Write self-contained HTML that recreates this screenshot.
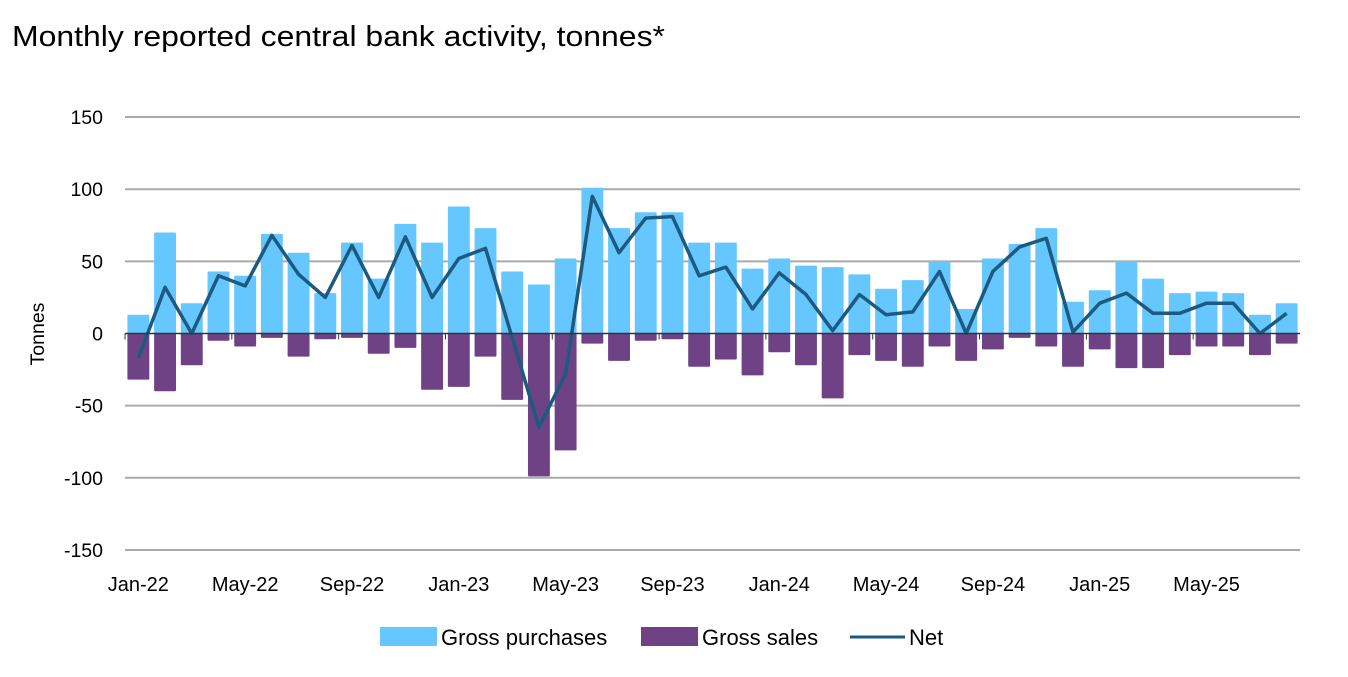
<!DOCTYPE html>
<html><head><meta charset="utf-8"><style>
body{margin:0;background:#fff;font-family:"Liberation Sans",sans-serif;}
</style></head><body>
<svg width="1348" height="672" xmlns="http://www.w3.org/2000/svg" font-family="Liberation Sans, sans-serif">
<text x="12" y="46" font-size="29" textLength="653" lengthAdjust="spacingAndGlyphs" fill="#000">Monthly reported central bank activity, tonnes*</text>
<g id="grid"></g><g id="bars"></g><g id="line"></g><g id="axes"></g>
<g>
<rect x="380" y="627" width="57" height="19" fill="#66c7ff"/>
<text x="441" y="645" font-size="22">Gross purchases</text>
<rect x="641" y="627" width="57" height="19" fill="#6e4285"/>
<text x="702" y="645" font-size="22">Gross sales</text>
<line x1="850" y1="637" x2="905" y2="637" stroke="#1d5a80" stroke-width="3"/>
<text x="909" y="645" font-size="22">Net</text>
</g>
</svg>
<script>
const months=["Jan-22","Feb-22","Mar-22","Apr-22","May-22","Jun-22","Jul-22","Aug-22","Sep-22","Oct-22","Nov-22","Dec-22","Jan-23","Feb-23","Mar-23","Apr-23","May-23","Jun-23","Jul-23","Aug-23","Sep-23","Oct-23","Nov-23","Dec-23","Jan-24","Feb-24","Mar-24","Apr-24","May-24","Jun-24","Jul-24","Aug-24","Sep-24","Oct-24","Nov-24","Dec-24","Jan-25","Feb-25","Mar-25","Apr-25","May-25","Jun-25","Jul-25","Aug-25"];
const purchases=[13,70,21,43,40,69,56,28,63,38,76,63,88,73,43,34,52,101,73,84,84,63,63,45,52,47,46,41,31,37,50,17,52,62,73,22,30,50,38,28,29,28,13,21];
const sales=[-32,-40,-22,-5,-9,-3,-16,-4,-3,-14,-10,-39,-37,-16,-46,-99,-81,-7,-19,-5,-4,-23,-18,-29,-13,-22,-45,-15,-19,-23,-9,-19,-11,-3,-9,-23,-11,-24,-24,-15,-9,-9,-15,-7];
const net=[-17,32,0,40,33,68,41,25,61,25,67,25,52,59,-3,-65,-28,95,56,80,81,40,46,17,42,27,2,27,13,15,43,0,43,60,66,1,21,28,14,14,21,21,0,14];
const yTicks=[150,100,50,0,-50,-100,-150];
const xTickLabels=["Jan-22","May-22","Sep-22","Jan-23","May-23","Sep-23","Jan-24","May-24","Sep-24","Jan-25","May-25"];
const NS="http://www.w3.org/2000/svg";
const x0=125,x1=1300,slot=(x1-x0)/months.length;
const y=v=>333.5-v*1.443;
const xc=i=>x0+slot*(i+0.5);
function mk(t,a,p){const e=document.createElementNS(NS,t);for(const k in a)e.setAttribute(k,a[k]);p.appendChild(e);return e;}
const G=document.getElementById('grid'),B=document.getElementById('bars'),L=document.getElementById('line'),A=document.getElementById('axes');
yTicks.forEach(v=>{
 if(v!==0){const g=mk('line',{x1:x0,x2:x1,y1:y(v),y2:y(v),stroke:'#aaa','stroke-width':2},G);
 
 }
 const t=mk('text',{x:103,y:y(v)+7,'font-size':19.5,'text-anchor':'end',fill:'#000'},A);t.textContent=v;
 
 
});
const yt=mk('text',{x:44,y:334,'font-size':19.5,'text-anchor':'middle',transform:'rotate(-90 44 334)'},A);yt.textContent='Tonnes';


const bw=slot*0.82;
months.forEach((m,i)=>{
 const p=mk('rect',{x:xc(i)-bw/2,y:y(purchases[i]),width:bw,height:y(0)-y(purchases[i]),fill:'#66c7ff',rx:1},B);
 
 
 const s=mk('rect',{x:xc(i)-bw/2,y:y(0),width:bw,height:y(sales[i])-y(0),fill:'#6e4285',rx:1},B);
 
 
});
const zl=mk('line',{x1:x0,x2:x1,y1:y(0),y2:y(0),stroke:'#333','stroke-width':1.5},A);


months.forEach((m,i)=>{
 if(i%4===0){const tk=mk('line',{x1:x0+slot*i,x2:x0+slot*i,y1:y(0),y2:y(0)+6,stroke:'#333','stroke-width':1},A);
 
 }
});
xTickLabels.forEach(lb=>{
 const i=months.indexOf(lb);
 const t=mk('text',{x:xc(i),y:591,'font-size':20,'text-anchor':'middle'},A);t.textContent=lb;
 
 
});
const pl=mk('polyline',{points:net.map((v,i)=>xc(i)+','+y(v)).join(' '),fill:'none',stroke:'#1d5a80','stroke-width':3.5,'stroke-linejoin':'round'},L);


</script>
</body></html>
